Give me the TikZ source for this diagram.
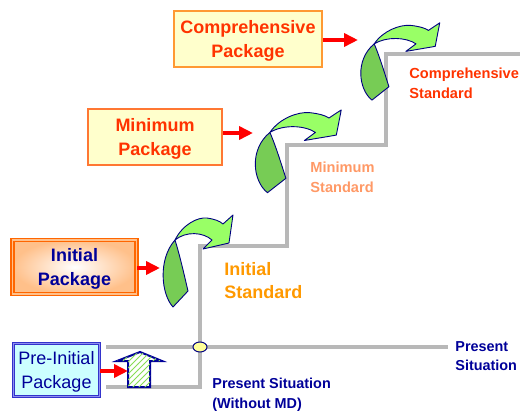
\documentclass[tikz,border=0pt]{standalone}
\usepackage{fontspec}
\setmainfont{Liberation Sans}
\usetikzlibrary{arrows.meta,patterns,shapes.geometric}
\definecolor{stepgray}{HTML}{B8B8B8}
\definecolor{pkgyellow}{HTML}{FFFFCC}
\definecolor{pkgorange}{HTML}{FF9933}
\definecolor{minorange}{HTML}{FF7733}
\definecolor{initorange}{HTML}{FF6600}
\definecolor{initpeach}{HTML}{FFC08A}
\definecolor{prefill}{HTML}{CCFFFF}
\definecolor{preblue}{HTML}{3333CC}
\definecolor{prelight}{HTML}{8F8FF0}
\definecolor{pkgred}{HTML}{FF3300}
\definecolor{pkgblue}{HTML}{000099}
\definecolor{minsalmon}{HTML}{FF9966}
\definecolor{initamber}{HTML}{FF9900}
\definecolor{pushred}{HTML}{FF0000}
\definecolor{turngreen}{HTML}{77CC55}
\definecolor{turnlime}{HTML}{99FF66}
\definecolor{turnink}{HTML}{000080}
\definecolor{nowyellow}{HTML}{FFFF99}
\definecolor{hatchgreen}{HTML}{88DD55}

\tikzset{
  pkgbox/.style={draw,line width=1pt,align=center,inner sep=0pt,
    text depth=0pt,execute at begin node={\rule{0pt}{8pt}},
    font=\bfseries\fontsize{9}{12}\selectfont},
  stdlabel/.style={anchor=west,align=left,inner sep=0pt,
    font=\bfseries\fontsize{7.3}{10}\selectfont},
  pushline/.style={-{Triangle[length=7pt,width=6.5pt]},draw=pushred,line width=2.2pt},
  stepline/.style={draw=stepgray,line width=2pt},
  turnback/.style={fill=turngreen,draw=turnink,line width=.45pt,line join=round},
  turnfront/.style={fill=turnlime,draw=turnink,line width=.45pt,line join=round},
  nowmark/.style={ellipse,draw=turnink,fill=nowyellow,line width=.5pt,
    minimum width=7pt,minimum height=5pt,inner sep=0pt}
}

% twisted green arrow, #1 = top left corner, #2 = extra scaling
\newcommand{\turnarrow}[2]{%
  \begin{scope}[shift={#1},#2]
    \path[turnback] (15,93) .. controls (3,80) and (0,45) .. (17,26)
      .. controls (22,42) and (26,60) .. (30,77) -- cycle;
    \path[turnfront] (17,26) .. controls (25,10) and (40,3) .. (49,4)
      .. controls (56,5) and (62,7) .. (65,10) -- (75,1) -- (71,29)
      -- (45,35) -- (54,26) .. controls (45,18) and (28,17) .. (17,26) -- cycle;
  \end{scope}}

\begin{document}
\begin{tikzpicture}[x=.5pt,y=-.5pt]
  \useasboundingbox (0,0) rectangle (520,412);

  % staircase and present line
  \draw[stepline] (106,387) -- (200,387) -- (200,246) -- (287,246)
    -- (287,145) -- (386,145) -- (386,54) -- (520,54);
  \draw[stepline] (106,347) -- (448,347);
  \node[nowmark] (now) at (200,347) {};

  % one turning arrow per step
  \turnarrow{(158,214)}{}
  \turnarrow{(249,109)}{xscale=1.23,yscale=.9}
  \turnarrow{(355,22)}{xscale=1.13,yscale=.84}
  \coordinate (turn1) at (160,268);
  \coordinate (turn2) at (253,133);
  \coordinate (turn3) at (358,40);

  % packages
  \node[pkgbox,draw=pkgorange,fill=pkgyellow,text=pkgred,
    minimum width=74pt,minimum height=28pt] (comppkg) at (248,38.5)
    {Comprehensive\\Package};
  \node[pkgbox,draw=minorange,fill=pkgyellow,text=pkgred,
    minimum width=67pt,minimum height=28pt] (minpkg) at (155,137)
    {Minimum\\Package};
  \node[pkgbox,draw=initorange,double=initpeach,double distance=.7pt,
    line width=.7pt,inner color=white,outer color=initpeach,text=pkgblue,
    minimum width=62pt,minimum height=27pt] (initpkg) at (74.5,267)
    {Initial\\Package};
  \node[pkgbox,draw=preblue,double=prelight,double distance=.5pt,
    line width=.6pt,fill=prefill,text=pkgblue,font=\fontsize{9}{12}\selectfont,
    minimum width=43pt,minimum height=26.5pt] (prepkg) at (56.5,370)
    {Pre-Initial\\Package};

  % hatched lift arrow
  \path[draw=pkgblue,line width=1pt,fill=white,
    postaction={pattern=north east lines,pattern color=hatchgreen}]
    (128,387) -- (128,361) -- (117,361) -- (140,352) -- (162,361)
    -- (150,361) -- (150,387) -- cycle;
  \coordinate (lift) at (128,371);

  % pushes into the arrows
  \draw[pushline] (comppkg.east |- turn3) -- (turn3);
  \draw[pushline] (minpkg.east |- turn2) -- (turn2);
  \draw[pushline] (initpkg.east |- turn1) -- (turn1);
  \draw[pushline] (prepkg.east |- lift) -- (lift);

  % standards
  \node[stdlabel,text=pkgred] (compstd) at (409,83)
    {Comprehensive\\Standard};
  \node[stdlabel,text=minsalmon] (minstd) at (310,177)
    {Minimum\\Standard};
  \node[stdlabel,text=initamber,font=\bfseries\fontsize{9}{11.5}\selectfont]
    (initstd) at (224,280.5) {Initial\\Standard};
  \node[stdlabel,text=pkgblue,font=\bfseries\fontsize{7.2}{9.5}\selectfont]
    (present) at (455,356) {Present\\Situation};
  \node[stdlabel,text=pkgblue,font=\bfseries\fontsize{7.2}{10}\selectfont]
    (withoutmd) at (212,395) {Present Situation\\(Without MD)};
\end{tikzpicture}
\end{document}
